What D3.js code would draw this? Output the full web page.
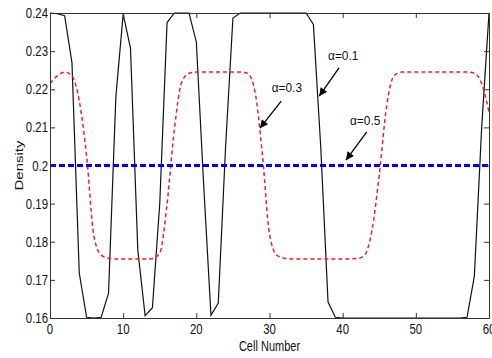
<!DOCTYPE html>
<html>
<head>
<script src="https://cdnjs.cloudflare.com/ajax/libs/d3/7.8.5/d3.min.js"></script>
<style>
  body { margin: 0; background: #fff; font-family: "Liberation Sans", Arial, sans-serif; }
</style>
</head>
<body>
<script>
// cell index (x axis)
var cells = [0,1,2,3,4,5,6,7,8,9,10,11,12,13,14,15,16,17,18,19,20,
  21,22,23,24,25,26,27,28,29,30,31,32,33,34,35,36,37,38,39,40,
  41,42,43,44,45,46,47,48,49,50,51,52,53,54,55,56,57,58,59,60];

// alpha = 0.1 (black solid)
var alpha01 = [0.2400,0.2398,0.2393,0.2270,0.1718,0.1602,0.1600,0.1602,0.1665,0.2180,0.2397,
  0.2308,0.1778,0.1606,0.1627,0.1900,0.2375,0.2400,0.2400,0.2400,0.2324,
  0.1950,0.1607,0.1639,0.2050,0.2387,0.2400,0.2400,0.2400,0.2400,0.2400,
  0.2400,0.2400,0.2400,0.2400,0.2400,0.2370,0.2050,0.1642,0.1602,0.1600,
  0.1600,0.1600,0.1600,0.1600,0.1600,0.1600,0.1600,0.1600,0.1600,0.1600,
  0.1600,0.1600,0.1600,0.1600,0.1600,0.1600,0.1602,0.1710,0.2100,0.2400];

// alpha = 0.3 (red dashed)
var alpha03 = [0.2215,0.2235,0.2245,0.2235,0.2170,0.2025,0.1815,0.1765,0.1757,0.1755,0.1755,
  0.1755,0.1755,0.1755,0.1756,0.1770,0.1900,0.2095,0.2218,0.2242,0.2245,
  0.2245,0.2245,0.2245,0.2245,0.2245,0.2245,0.2242,0.2195,0.2035,0.1820,
  0.1765,0.1757,0.1755,0.1755,0.1755,0.1755,0.1755,0.1755,0.1755,0.1755,
  0.1755,0.1756,0.1765,0.1830,0.1975,0.2155,0.2235,0.2245,0.2245,0.2245,
  0.2245,0.2245,0.2245,0.2245,0.2245,0.2245,0.2245,0.2242,0.2215,0.2140];

// alpha = 0.5 (blue dashed)
var alpha05 = [0.2,0.2,0.2,0.2,0.2,0.2,0.2,0.2,0.2,0.2,0.2,
  0.2,0.2,0.2,0.2,0.2,0.2,0.2,0.2,0.2,0.2,
  0.2,0.2,0.2,0.2,0.2,0.2,0.2,0.2,0.2,0.2,
  0.2,0.2,0.2,0.2,0.2,0.2,0.2,0.2,0.2,0.2,
  0.2,0.2,0.2,0.2,0.2,0.2,0.2,0.2,0.2,0.2,
  0.2,0.2,0.2,0.2,0.2,0.2,0.2,0.2,0.2,0.2];

var xTicks = [0,10,20,30,40,50,60];
var yTicks = [0.16,0.17,0.18,0.19,0.2,0.21,0.22,0.23,0.24];

// annotations: label, text pos, arrow start, arrow tip (data units)
var noteLabels = ["\u03b1=0.1", "\u03b1=0.3", "\u03b1=0.5"];
var noteText   = [[38.0,0.2277],[30.3,0.2193],[41.0,0.2106]];
var noteFrom   = [[39.5,0.2256],[31.6,0.2169],[43.3,0.2088]];
var noteTo     = [[36.8,0.2182],[28.7,0.2098],[40.45,0.2014]];

var width = 492, height = 358;
var margin = {top: 13, right: 3, bottom: 40, left: 50};
var sq = 0.76; // horizontal squeeze of the picture's text

var svg = d3.select("body").append("svg")
  .attr("width", width)
  .attr("height", height);

var x = d3.scaleLinear().domain([0, 60]).range([margin.left, width - margin.right]);
var y = d3.scaleLinear().domain([0.16, 0.24]).range([height - margin.bottom, margin.top]);

var defs = svg.append("defs");
defs.append("clipPath").attr("id", "clip")
  .append("rect")
  .attr("x", x(0)).attr("y", y(0.24) - 2)
  .attr("width", x(60) - x(0)).attr("height", y(0.16) - y(0.24) + 4);
defs.append("marker")
  .attr("id", "arrow")
  .attr("viewBox", "0 0 10 10")
  .attr("refX", 10).attr("refY", 5)
  .attr("markerWidth", 10).attr("markerHeight", 8)
  .attr("markerUnits", "userSpaceOnUse")
  .attr("orient", "auto")
  .append("path").attr("d", "M0,0 L10,5 L0,10 z").attr("fill", "#000");

// lines
var lineOf = function(vals, curve) {
  return d3.line()
    .x(function(d, i) { return x(cells[i]); })
    .y(function(d) { return y(d); })
    .curve(curve)(vals);
};

var plot = svg.append("g").attr("clip-path", "url(#clip)");

plot.append("path")
  .attr("d", lineOf(alpha01, d3.curveLinear))
  .attr("fill", "none").attr("stroke", "#111").attr("stroke-width", 1.2);

plot.append("path")
  .attr("d", lineOf(alpha03, d3.curveMonotoneX))
  .attr("fill", "none").attr("stroke", "#ee2222").attr("stroke-width", 1.5)
  .attr("stroke-dasharray", "4,3");

plot.append("path")
  .attr("d", lineOf(alpha05, d3.curveLinear))
  .attr("fill", "none").attr("stroke", "#0000dd").attr("stroke-width", 3)
  .attr("stroke-dasharray", "6,3");

// axes (MATLAB style box with inward ticks)
var axisColor = "#333";
function styleAxis(g) {
  g.selectAll("path, line").attr("stroke", axisColor);
  g.selectAll("text").remove();
}
svg.append("g").attr("transform", "translate(0," + y(0.16) + ")")
  .call(d3.axisBottom(x).tickValues(xTicks).tickSizeInner(-5).tickSizeOuter(0)).call(styleAxis);
svg.append("g").attr("transform", "translate(0," + y(0.24) + ")")
  .call(d3.axisTop(x).tickValues(xTicks).tickSizeInner(-5).tickSizeOuter(0)).call(styleAxis);
svg.append("g").attr("transform", "translate(" + x(0) + ",0)")
  .call(d3.axisLeft(y).tickValues(yTicks).tickSizeInner(-5).tickSizeOuter(0)).call(styleAxis);
svg.append("g").attr("transform", "translate(" + x(60) + ",0)")
  .call(d3.axisRight(y).tickValues(yTicks).tickSizeInner(-5).tickSizeOuter(0)).call(styleAxis);

// tick labels
svg.selectAll(".xl").data(xTicks).enter().append("text")
  .attr("transform", function(d) { return "translate(" + x(d) + "," + (y(0.16) + 16) + ") scale(" + sq + ",1)"; })
  .attr("text-anchor", "middle")
  .style("font-size", "15px").attr("fill", "#111")
  .text(function(d) { return d; });

svg.selectAll(".yl").data(yTicks).enter().append("text")
  .attr("transform", function(d) { return "translate(" + (x(0) - 2) + "," + (y(d) + 5) + ") scale(" + sq + ",1)"; })
  .attr("text-anchor", "end")
  .style("font-size", "15px").attr("fill", "#111")
  .text(function(d) { return d3.format("")(+d.toFixed(2)); });

// axis titles
svg.append("text")
  .attr("transform", "translate(" + ((x(0) + x(60)) / 2) + "," + (y(0.16) + 33) + ") scale(" + sq + ",1)")
  .attr("text-anchor", "middle")
  .style("font-size", "14.5px").attr("fill", "#111")
  .text("Cell Number");

svg.append("text")
  .attr("transform", "translate(23," + y(0.2) + ") rotate(-90) scale(1," + sq + ")")
  .attr("text-anchor", "middle")
  .style("font-size", "15px").attr("fill", "#111")
  .text("Density");

// annotations
noteLabels.forEach(function(lbl, i) {
  svg.append("text")
    .attr("transform", "translate(" + x(noteText[i][0]) + "," + y(noteText[i][1]) + ") scale(0.95,1)")
    .style("font-size", "12.5px").attr("fill", "#111")
    .text(lbl);
  svg.append("line")
    .attr("x1", x(noteFrom[i][0])).attr("y1", y(noteFrom[i][1]))
    .attr("x2", x(noteTo[i][0])).attr("y2", y(noteTo[i][1]))
    .attr("stroke", "#000").attr("stroke-width", 1.3)
    .attr("marker-end", "url(#arrow)");
});
</script>
</body>
</html>
